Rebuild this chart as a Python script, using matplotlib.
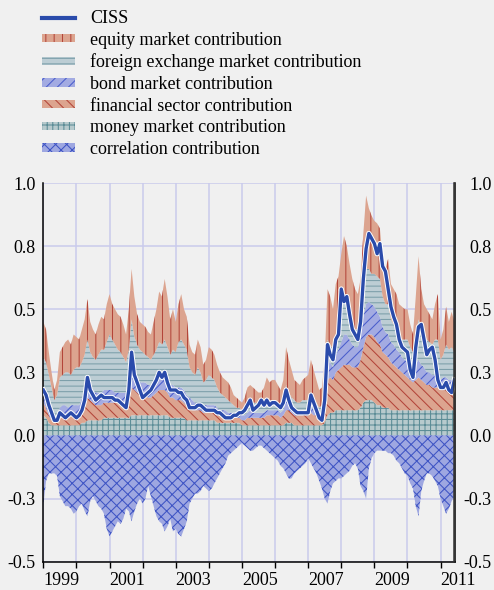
import numpy as np
import matplotlib
matplotlib.use("Agg")
import matplotlib.pyplot as plt
from matplotlib.patches import Patch
from matplotlib.lines import Line2D
import matplotlib.patheffects as pe

plt.rcParams['font.family'] = ['Liberation Serif', 'DejaVu Serif']
plt.rcParams['hatch.linewidth'] = 0.75

# ---------------- data (monthly, Jan 1999 - Jun 2011) ----------------
start_year = 1999

equity = [
    .14, .13, .09, .06, .04, .06, .10, .11, .12, .13, .12, .14,
    .12, .11, .13, .14, .16, .12, .11, .10, .12, .13, .12, .15,
    .16, .14, .14, .14, .14, .13, .11, .16, .20, .16, .12, .11,
    .11, .11, .10, .10, .13, .16, .20, .19, .24, .20, .14, .16,
    .12, .15, .18, .14, .13, .09, .08, .08, .11, .10, .07, .08,
    .11, .11, .10, .09, .08, .07, .07, .07, .06, .04, .04, .03,
    .03, .04, .06, .06, .06, .05, .05, .05, .06, .08, .07, .08,
    .08, .07, .06, .08, .15, .13, .11, .08, .08, .07, .08, .09,
    .10, .13, .11, .09, .07, .07, .12, .20, .19, .16, .20, .20,
    .20, .24, .23, .20, .18, .16, .14, .16, .22, .29, .24, .23,
    .21, .21, .20, .15, .14, .18, .14, .14, .14, .12, .13, .12,
    .12, .09, .07, .15, .25, .16, .12, .12, .11, .10, .14, .18,
    .08, .10, .15, .11, .14, .12,
]
fx = [
    .14, .13, .13, .11, .07, .08, .12, .12, .13, .14, .12, .14,
    .15, .15, .14, .16, .17, .14, .13, .13, .15, .17, .16, .19,
    .22, .20, .19, .17, .16, .14, .12, .14, .21, .16, .14, .13,
    .12, .11, .11, .10, .11, .12, .13, .12, .14, .13, .12, .14,
    .14, .18, .19, .18, .18, .12, .11, .11, .14, .12, .09, .10,
    .12, .11, .10, .08, .07, .06, .05, .05, .04, .03, .02, .02,
    .02, .03, .04, .04, .04, .04, .03, .03, .04, .05, .04, .04,
    .04, .03, .03, .04, .06, .04, .03, .04, .03, .03, .04, .04,
    .04, .05, .05, .03, .02, .03, .04, .09, .07, .07, .08, .09,
    .15, .15, .12, .10, .08, .07, .07, .07, .11, .14, .13, .12,
    .13, .14, .15, .12, .11, .12, .09, .08, .08, .07, .07, .08,
    .09, .08, .07, .12, .16, .14, .13, .13, .12, .12, .14, .14,
    .08, .09, .13, .12, .13, .11,
]
bond = [
    .04, .05, .03, .02, .01, .02, .04, .05, .05, .04, .04, .04,
    .04, .04, .05, .05, .06, .05, .05, .05, .05, .05, .05, .05,
    .05, .05, .04, .04, .04, .04, .04, .05, .06, .05, .05, .05,
    .05, .05, .05, .05, .05, .05, .06, .06, .06, .05, .05, .05,
    .05, .05, .05, .05, .04, .04, .04, .03, .03, .03, .03, .03,
    .03, .03, .03, .03, .02, .02, .02, .02, .02, .02, .02, .02,
    .02, .02, .02, .03, .02, .02, .02, .02, .02, .02, .02, .02,
    .02, .02, .02, .02, .04, .03, .03, .02, .02, .02, .02, .02,
    .02, .03, .02, .02, .02, .02, .03, .07, .06, .05, .07, .08,
    .10, .12, .12, .10, .09, .08, .08, .09, .12, .13, .13, .12,
    .12, .12, .11, .10, .09, .09, .08, .08, .07, .07, .06, .06,
    .06, .05, .05, .06, .07, .06, .06, .05, .05, .05, .05, .05,
    .04, .05, .05, .05, .05, .05,
]
financial = [
    .05, .04, .03, .02, .02, .02, .03, .03, .03, .03, .04, .04,
    .04, .04, .05, .06, .09, .08, .07, .06, .06, .06, .06, .06,
    .06, .06, .06, .06, .06, .06, .06, .08, .11, .10, .09, .08,
    .08, .08, .07, .07, .08, .09, .10, .10, .10, .09, .08, .08,
    .07, .07, .07, .06, .06, .05, .04, .04, .04, .04, .03, .03,
    .03, .03, .03, .03, .03, .03, .03, .02, .02, .02, .02, .02,
    .02, .02, .03, .03, .03, .03, .03, .03, .03, .04, .04, .04,
    .04, .04, .03, .04, .05, .05, .04, .04, .04, .04, .04, .04,
    .04, .05, .04, .04, .03, .03, .06, .14, .14, .13, .15, .16,
    .17, .18, .18, .18, .17, .17, .17, .19, .22, .25, .26, .26,
    .26, .25, .24, .22, .21, .20, .19, .18, .17, .16, .15, .14,
    .13, .12, .11, .12, .13, .12, .11, .10, .10, .09, .09, .09,
    .08, .08, .08, .07, .07, .07,
]
money = [
    .08, .07, .05, .04, .04, .04, .04, .04, .04, .04, .04, .04,
    .04, .04, .05, .05, .06, .06, .06, .06, .06, .06, .07, .07,
    .07, .07, .07, .07, .07, .07, .07, .07, .08, .08, .08, .08,
    .08, .08, .08, .08, .08, .08, .08, .08, .08, .08, .07, .07,
    .07, .07, .07, .07, .06, .06, .06, .06, .06, .06, .06, .06,
    .06, .06, .06, .05, .05, .05, .05, .05, .05, .05, .05, .05,
    .04, .04, .04, .04, .04, .04, .04, .04, .04, .04, .04, .04,
    .04, .04, .04, .04, .05, .05, .05, .04, .04, .04, .04, .04,
    .04, .04, .04, .04, .04, .04, .05, .08, .09, .09, .10, .10,
    .10, .10, .10, .10, .10, .10, .10, .11, .13, .14, .14, .14,
    .13, .12, .12, .11, .11, .11, .10, .10, .10, .10, .10, .10,
    .10, .10, .10, .10, .10, .10, .10, .10, .10, .10, .10, .10,
    .10, .10, .10, .10, .10, .10,
]
correlation = [
    -.28, -.18, -.15, -.15, -.15, -.16, -.24, -.26, -.28, -.28, -.29, -.31,
    -.30, -.28, -.27, -.30, -.32, -.26, -.24, -.26, -.28, -.29, -.31, -.37,
    -.40, -.38, -.36, -.34, -.35, -.33, -.29, -.30, -.34, -.30, -.27, -.25,
    -.27, -.25, -.20, -.24, -.28, -.32, -.34, -.35, -.38, -.36, -.33, -.38,
    -.37, -.39, -.40, -.37, -.34, -.27, -.25, -.23, -.23, -.22, -.20, -.21,
    -.22, -.21, -.19, -.17, -.15, -.13, -.11, -.08, -.07, -.06, -.05, -.04,
    -.03, -.04, -.05, -.06, -.06, -.05, -.04, -.04, -.05, -.06, -.07, -.08,
    -.09, -.10, -.12, -.13, -.15, -.17, -.17, -.15, -.14, -.13, -.12, -.11,
    -.09, -.11, -.13, -.15, -.18, -.21, -.25, -.27, -.22, -.19, -.18, -.17,
    -.17, -.16, -.15, -.14, -.12, -.11, -.13, -.20, -.22, -.25, -.13, -.09,
    -.07, -.06, -.06, -.06, -.06, -.07, -.07, -.08, -.10, -.11, -.13, -.15,
    -.16, -.19, -.21, -.28, -.32, -.22, -.18, -.15, -.15, -.16, -.18, -.20,
    -.25, -.28, -.31, -.29, -.26, -.24,
]
ciss = [
    .18, .16, .12, .09, .06, .06, .09, .08, .07, .08, .09, .08,
    .07, .08, .10, .14, .23, .18, .16, .14, .15, .16, .15, .15,
    .15, .15, .14, .14, .13, .12, .11, .18, .33, .24, .21, .18,
    .15, .16, .17, .18, .20, .22, .25, .23, .25, .21, .18, .18,
    .18, .17, .17, .15, .14, .11, .11, .11, .12, .12, .11, .10,
    .10, .10, .10, .09, .09, .08, .07, .07, .07, .08, .08, .09,
    .09, .10, .12, .14, .10, .11, .12, .14, .12, .14, .12, .13,
    .13, .12, .11, .13, .18, .14, .11, .10, .09, .09, .09, .09,
    .09, .16, .13, .10, .07, .06, .14, .36, .32, .30, .38, .40,
    .58, .53, .55, .48, .42, .40, .38, .45, .62, .74, .80, .78,
    .76, .72, .76, .67, .65, .58, .51, .47, .44, .38, .35, .34,
    .33, .26, .23, .35, .43, .44, .38, .32, .34, .35, .30, .22,
    .19, .19, .21, .18, .17, .22,
]

series_labels = ["CISS", "equity market contribution",
                 "foreign exchange market contribution", "bond market contribution",
                 "financial sector contribution", "money market contribution",
                 "correlation contribution"]
year_ticks = list(range(1999, 2012))
year_labels = [str(y) if (y - 1999) % 2 == 0 else "" for y in year_ticks]
y_ticks = [-0.5, -0.25, 0.0, 0.25, 0.5, 0.75, 1.0]
y_labels = ["-0.5", "-0.3", "0.0", "0.3", "0.5", "0.8", "1.0"]

# ---------------- styles ----------------
BG = "#f0f0f0"
GRID = "#c9cbec"
CISS_COL = "#2a4bab"
styles = {  # facecolor, hatchcolor, hatch
    "money": ("#b7cacd", "#5b8c96", "+++"),
    "financial": ("#dca48f", "#b3453a", "\\\\\\"),
    "bond": ("#a3abe2", "#4a5dcc", "///"),
    "fx": ("#bccdd4", "#7b9ea9", "---"),
    "equity": ("#dca48f", "#b3453a", "||"),
    "corr": ("#9ea7e1", "#3e54c4", "xxx"),
}

x = start_year + np.arange(len(ciss)) / 12.0

fig = plt.figure(figsize=(4.94, 5.90), dpi=100, facecolor=BG)
ax = fig.add_axes([43.3 / 494, 28.3 / 590, 411.2 / 494, 378.7 / 590])
ax.set_facecolor(BG)

order = [("money", money), ("financial", financial), ("bond", bond),
         ("fx", fx), ("equity", equity)]
polys = ax.stackplot(x, *[np.asarray(v) for _, v in order],
                     colors=[styles[k][0] for k, _ in order],
                     hatch=[styles[k][2] for k, _ in order],
                     linewidth=0, zorder=2)
for (k, _), p in zip(order, polys):
    p.set_edgecolor(styles[k][1])
    p.set_linewidth(0)

ax.fill_between(x, 0, correlation, facecolor=styles["corr"][0],
                edgecolor=styles["corr"][1], hatch=styles["corr"][2],
                linewidth=0, zorder=2)

ax.plot(x, ciss, color=CISS_COL, lw=2.4, zorder=4, solid_joinstyle="round",
        path_effects=[pe.Stroke(linewidth=3.8, foreground="white"), pe.Normal()])

ax.set_xlim(1999.0, 2011.42)
ax.set_ylim(-0.5, 1.0)
ax.set_axisbelow(True)
ax.set_xticks(year_ticks)
ax.set_xticklabels(year_labels, fontsize=13, ha="left")
ax.set_yticks(y_ticks)
ax.set_yticklabels(y_labels, fontsize=13)
ax.grid(True, color=GRID, lw=1.1, zorder=0)
ax.tick_params(axis="x", direction="out", length=4, width=1.0, pad=3.5, color="black")
ax.tick_params(axis="y", length=0, pad=5.5)
for s in ["left", "right", "bottom"]:
    ax.spines[s].set_color("black")
    ax.spines[s].set_linewidth(1.1)
ax.spines["top"].set_visible(False)

ax2 = ax.twinx()
ax2.set_ylim(-0.5, 1.0)
ax2.set_yticks(y_ticks)
ax2.set_yticklabels(y_labels, fontsize=13, ha="right")
ax2.tick_params(axis="y", length=0, pad=27)
for s in ["left", "top", "bottom"]:
    ax2.spines[s].set_visible(False)
ax2.spines["right"].set_color("#333333")
ax2.spines["right"].set_linewidth(1.1)

handles = [Line2D([], [], color=CISS_COL, lw=3)]
for k in ["equity", "fx", "bond", "financial", "money", "corr"]:
    fc, hc, h = styles[k]
    handles.append(Patch(facecolor=fc, edgecolor=hc, hatch=h, linewidth=0))
fig.legend(handles, series_labels, loc="upper left",
           bbox_to_anchor=(42 / 494, 1 - 10 / 590), frameon=False,
           fontsize=13, handlelength=1.85, handleheight=0.35,
           handletextpad=0.8, labelspacing=0.26, borderpad=0, borderaxespad=0)

fig.savefig("out.png", dpi=100, facecolor=BG)
